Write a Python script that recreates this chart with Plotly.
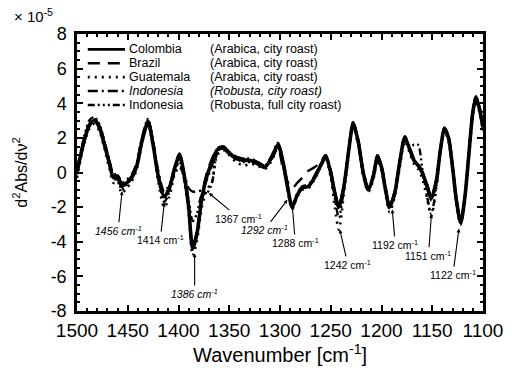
import plotly.graph_objects as go

# ---------------- data (values in units of 10^-5) ----------------
wavenumber = [1500, 1494, 1488, 1483, 1478, 1473, 1468, 1464, 1460, 1456,
              1451, 1446, 1441, 1436, 1430, 1425, 1420, 1414, 1409, 1404,
              1399, 1394, 1390, 1386, 1382, 1377, 1372, 1367, 1362, 1356,
              1350, 1343, 1336, 1329, 1322, 1315, 1308, 1302, 1297, 1292,
              1288, 1283, 1278, 1272, 1266, 1260, 1255, 1250, 1246, 1242,
              1237, 1232, 1228, 1223, 1218, 1213, 1208, 1204, 1200, 1196,
              1192, 1187, 1182, 1177, 1172, 1168, 1164, 1160, 1155, 1151,
              1146, 1142, 1138, 1134, 1130, 1126, 1122, 1118, 1114, 1110,
              1107, 1104, 1100]

colombia = [0.0, 1.6, 2.7, 3.0, 2.6, 1.6, 0.5, -0.3, -0.2, -0.8,
            -0.6, -0.3, 0.4, 1.8, 2.9, 1.6, -0.2, -1.4, -0.9, 0.2,
            1.0, -0.3, -2.0, -4.4, -3.6, -1.5, -0.2, 0.6, 1.3, 1.4,
            1.1, 0.8, 0.7, 0.7, 0.5, 0.3, 0.9, 1.6, 0.6, -1.0,
            -2.0, -1.3, -0.9, -0.8, -0.3, 0.4, 0.9, 0.0, -1.2, -2.0,
            -0.8, 1.4, 2.8, 1.8, 0.0, -1.0, -0.2, 0.9, 0.3, -1.0,
            -2.0, -1.2, 0.6, 2.0, 1.3, 0.7, 0.4, 0.0, -0.8, -1.5,
            -0.5, 1.3, 2.5, 2.0, 0.3, -1.7, -2.9, -1.5, 1.0, 3.5,
            4.3, 3.8, 2.6]

brazil = [-0.1, 1.5, 2.8, 3.1, 2.7, 1.7, 0.6, -0.2, -0.3, -0.7,
          -0.5, -0.2, 0.5, 1.9, 3.0, 1.7, -0.1, -1.3, -0.8, 0.3,
          1.1, -0.2, -1.8, -4.2, -3.4, -1.3, 0.0, 0.8, 1.4, 1.5,
          1.2, 0.9, 0.8, 0.7, 0.6, 0.4, 0.8, 1.4, 0.2, -0.6,
          -0.9, -0.6, -0.3, 0.1, 0.3, 0.6, 1.0, 0.1, -1.1, -1.9,
          -0.7, 1.5, 2.9, 1.9, 0.1, -0.9, -0.1, 1.0, 0.4, -0.9,
          -1.9, -1.1, 0.7, 2.1, 1.4, 0.8, 0.5, 0.1, -0.7, -1.4,
          -0.4, 1.4, 2.6, 2.1, 0.4, -1.6, -2.8, -1.4, 1.1, 3.6,
          4.4, 3.9, 2.7]

guatemala = [-0.3, 1.4, 2.5, 2.8, 2.4, 1.4, 0.2, -0.6, -0.5, -1.2,
             -0.9, -0.5, 0.2, 1.7, 2.8, 1.4, -0.5, -2.0, -1.4, -0.1,
             0.8, -0.6, -2.3, -4.8, -4.0, -2.0, -1.0, -0.5, 1.0, 1.3,
             1.0, 0.6, 0.4, 0.5, 0.4, 0.2, 0.7, 1.5, 0.4, -1.2,
             -2.1, -1.4, -1.0, -0.9, -0.4, 0.3, 0.8, -0.3, -2.0, -3.3,
             -1.2, 1.2, 2.7, 1.6, -0.2, -1.1, -0.4, 0.7, 0.1, -1.2,
             -2.3, -1.4, 0.3, 1.8, 1.1, 0.5, 0.2, -0.3, -1.5, -2.5,
             -0.9, 1.1, 2.4, 1.8, 0.1, -1.9, -3.0, -1.6, 0.8, 3.3,
             4.1, 3.6, 2.4]

indonesia_city = [0.2, 1.7, 2.8, 3.1, 2.7, 1.8, 0.7, -0.1, -0.1, -0.6,
                  -0.4, -0.1, 0.6, 2.0, 3.0, 1.8, 0.1, -1.1, -0.7, -0.1,
                  0.3, -0.2, -0.9, -1.1, -1.1, -1.0, -0.4, 0.4, 1.2, 1.5,
                  1.2, 0.9, 0.8, 0.8, 0.6, 0.4, 1.0, 1.7, 0.7, -0.9,
                  -1.9, -1.2, -0.8, -0.7, -0.2, 0.5, 1.0, 0.1, -1.1, -1.9,
                  -0.7, 1.5, 2.9, 1.9, 0.1, -0.9, -0.1, 1.0, 0.4, -0.9,
                  -1.9, -1.1, 0.7, 2.0, 1.3, 0.7, 0.4, 0.0, -0.9, -1.6,
                  -0.5, 1.3, 2.6, 2.1, 0.4, -1.6, -2.8, -1.4, 1.1, 3.6,
                  4.4, 3.9, 2.7]

indonesia_full = [0.1, 1.8, 3.0, 3.2, 2.8, 1.8, 0.6, -0.4, -0.4, -1.0,
                  -0.7, -0.3, 0.5, 2.0, 3.1, 1.7, -0.3, -1.7, -1.1, 0.0,
                  0.6, -0.5, -1.6, -2.8, -2.4, -1.3, -1.2, -0.6, 1.1, 1.5,
                  1.2, 0.8, 0.6, 0.6, 0.5, 0.3, 0.9, 1.7, 0.5, -1.1,
                  -2.0, -1.3, -0.9, -0.8, -0.3, 0.4, 1.0, -0.1, -1.5, -2.6,
                  -0.9, 1.4, 2.8, 1.7, -0.1, -1.0, -0.2, 0.8, 0.2, -1.1,
                  -2.1, -1.3, 0.5, 1.9, 1.5, 1.6, 1.6, 0.3, -1.4, -2.4,
                  -0.8, 1.2, 2.5, 2.0, 0.3, -1.7, -2.9, -1.5, 1.0, 3.5,
                  4.3, 3.8, 2.6]

series_names = ["Colombia", "Brazil", "Guatemala", "Indonesia", "Indonesia"]
series_notes = ["(Arabica, city roast)", "(Arabica, city roast)", "(Arabica, city roast)",
                "(Robusta, city roast)", "(Robusta, full city roast)"]
series_values = [colombia, brazil, guatemala, indonesia_city, indonesia_full]

# band labels: label wavenumber, arrow tip (wavenumber, value)
band_labels = [1456, 1414, 1386, 1367, 1292, 1288, 1242, 1192, 1151, 1122]
band_tip_x = [1455.6, 1414.0, 1384.1, 1370.0, 1292.7, 1287.9, 1241.1, 1189.4, 1150.8, 1123.7]
band_tip_y = [-1.08, -1.74, -4.68, -1.19, -1.58, -1.91, -3.29, -2.13, -2.41, -3.24]
band_italic = [True, False, True, False, True, False, False, False, False, False]

x_ticks = [1500, 1450, 1400, 1350, 1300, 1250, 1200, 1150, 1100]
y_ticks = [-8, -6, -4, -2, 0, 2, 4, 6, 8]

# ---------------- styling ----------------
FONT = "Liberation Sans, Arial, sans-serif"
dashes = ["solid", "12px,8px", "2px,5px", "10px,4px,2px,4px",
          "7px,3px,2px,3px,2px,3px,2px,3px"]
widths = [3.6, 2.4, 2.6, 2.4, 2.4]

fig = go.Figure()
# draw the solid (Colombia) last so it sits on top
for i in [4, 3, 2, 1, 0]:
    fig.add_trace(go.Scatter(
        x=wavenumber, y=series_values[i], mode="lines",
        name=f"{series_names[i]} {series_notes[i]}",
        line=dict(color="black", width=widths[i], dash=dashes[i],
                  shape="spline", smoothing=0.8),
        showlegend=False))

# ---------------- manual legend ----------------
L0, T0 = 77, 34
PW, PH = 414, 289


def px2paper(px, py):
    return (px - L0) / PW, (T0 + PH - py) / PH


row_py = [50, 64.5, 79, 93.5, 108]
shapes = []
annotations = []
for i in range(5):
    x0, y0 = px2paper(88, row_py[i])
    x1, _ = px2paper(126, row_py[i])
    shapes.append(dict(type="line", xref="paper", yref="paper", x0=x0, x1=x1, y0=y0, y1=y0,
                       line=dict(color="black", width=widths[i] if i else 2.6, dash=dashes[i])))
    nx, _ = px2paper(129, row_py[i])
    px_, _ = px2paper(212, row_py[i])
    name = series_names[i]
    note = series_notes[i]
    if i == 3:
        name = f"<i>{name}</i>"
        note = f"<i>{note}</i>"
    annotations.append(dict(xref="paper", yref="paper", x=nx, y=y0, text=name, showarrow=False,
                            xanchor="left", yanchor="middle", borderpad=0,
                            font=dict(family=FONT, size=12.5, color="black")))
    annotations.append(dict(xref="paper", yref="paper", x=px_, y=y0, text=note, showarrow=False,
                            xanchor="left", yanchor="middle", borderpad=0,
                            font=dict(family=FONT, size=12.5, color="black")))

# band label offsets (pixels from tip to text centre)
band_ax = [-4, -4, 0, 30, -23, 3, 8, 3, -3, -6]
band_ay = [39, 37, 40, 25, 30, 37, 35, 35, 41, 46]
for lab, tx, ty, it, ax, ay in zip(band_labels, band_tip_x, band_tip_y, band_italic, band_ax, band_ay):
    txt = f"{lab} cm<sup>-1</sup>"
    if it:
        txt = f"<i>{txt}</i>"
    annotations.append(dict(x=tx, y=ty, xref="x", yref="y", text=txt, showarrow=True,
                            ax=ax, ay=ay, arrowhead=2, arrowsize=0.7, arrowwidth=1.1,
                            arrowcolor="black", standoff=0,
                            font=dict(family=FONT, size=10.5, color="black")))

# exponent label
annotations.append(dict(xref="paper", yref="paper", x=px2paper(33, 15)[0], y=px2paper(33, 15)[1],
                        text="× 10<sup>-5</sup>", showarrow=False, xanchor="center", yanchor="middle",
                        font=dict(family=FONT, size=15, color="black")))

axis_common = dict(showline=True, linecolor="black", linewidth=2.5, mirror="allticks",
                   ticks="inside", ticklen=6, tickwidth=2, tickcolor="black",
                   showgrid=False, zeroline=False)

fig.update_layout(
    width=515, height=369, autosize=False,
    margin=dict(l=L0, r=515 - L0 - PW, t=T0, b=369 - T0 - PH),
    paper_bgcolor="white", plot_bgcolor="white",
    showlegend=False,
    font=dict(family=FONT, color="black"),
    shapes=shapes, annotations=annotations,
    xaxis=dict(range=[1500, 1100], tickvals=x_ticks, ticktext=[str(v) for v in x_ticks],
               tickfont=dict(family=FONT, size=19, color="black"),
               minor=dict(dtick=10, ticklen=3, tickwidth=1.5, ticks="inside", tickcolor="black"),
               title=dict(text="Wavenumber [cm<sup>-1</sup>]",
                          font=dict(family=FONT, size=20, color="black"), standoff=2),
               **axis_common),
    yaxis=dict(range=[-8, 8], tickvals=y_ticks, ticktext=[str(v) for v in y_ticks],
               tickfont=dict(family=FONT, size=18, color="black"),
               minor=dict(dtick=0.5, ticklen=3, tickwidth=1.5, ticks="inside", tickcolor="black"),
               ticklabelstandoff=4,
               title=dict(text="d<sup>2</sup>Abs/dν<sup>2</sup>",
                          font=dict(family=FONT, size=16, color="black"), standoff=20),
               **axis_common),
)

fig.write_html("out.html", config={"displayModeBar": False},
               post_script="document.body.style.margin='0px';")
